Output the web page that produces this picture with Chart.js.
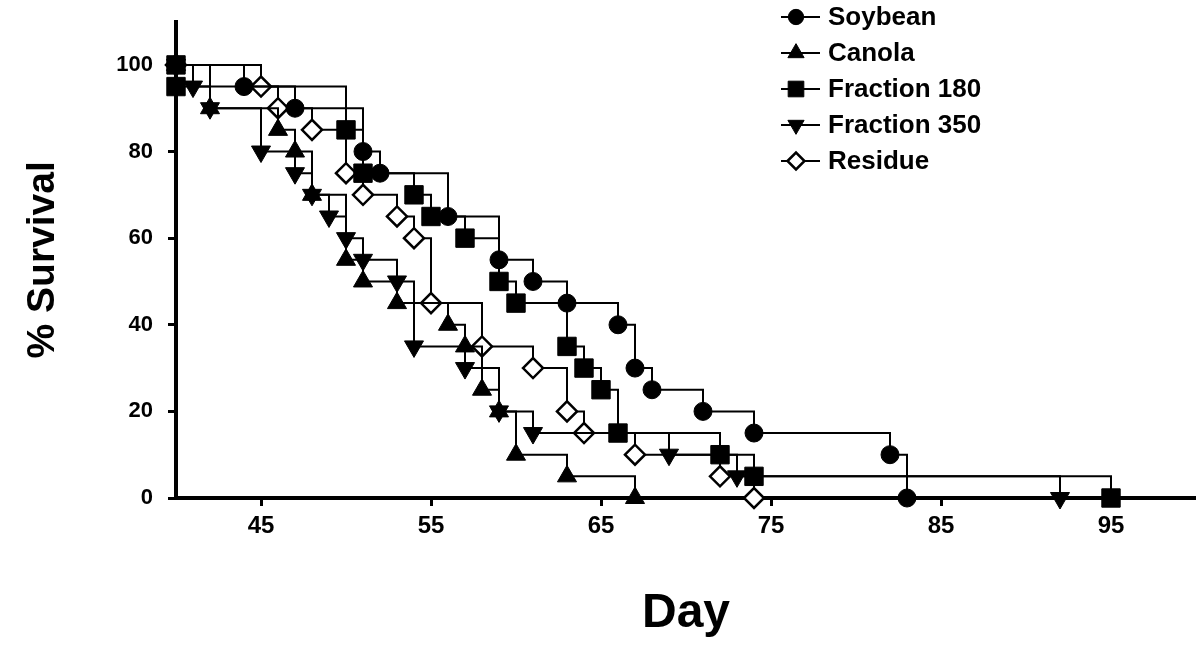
<!DOCTYPE html>
<html>
<head>
<meta charset="utf-8">
<script src="https://cdn.jsdelivr.net/npm/chart.js@4.4.1/dist/chart.umd.min.js"></script>
<style>
  html, body { margin: 0; padding: 0; background: #fff; }
</style>
</head>
<body>
<canvas id="survChart" width="1196" height="647"></canvas>
<script>
// tick labels
const xTicks = [45, 55, 65, 75, 85, 95];
const yTicks = [0, 20, 40, 60, 80, 100];

// survival (%) by day
const soybeanDays = [40, 44, 47, 51, 52, 56, 59, 61, 63, 66, 67, 68, 71, 74, 82, 83];
const soybeanSurv = [100, 95, 90, 80, 75, 65, 55, 50, 45, 40, 30, 25, 20, 15, 10, 0];

const canolaDays = [40, 42, 46, 47, 48, 50, 51, 53, 56, 57, 58, 59, 60, 63, 67];
const canolaSurv = [100, 90, 85, 80, 70, 55, 50, 45, 40, 35, 25, 20, 10, 5, 0];

const f180Days = [40, 40, 50, 51, 54, 55, 57, 59, 60, 63, 64, 65, 66, 72, 74, 95];
const f180Surv = [100, 95, 85, 75, 70, 65, 60, 50, 45, 35, 30, 25, 15, 10, 5, 0];

const f350Days = [40, 41, 42, 45, 47, 48, 49, 50, 51, 53, 54, 57, 59, 61, 69, 73, 92];
const f350Surv = [100, 95, 90, 80, 75, 70, 65, 60, 55, 50, 35, 30, 20, 15, 10, 5, 0];

const residueDays = [40, 45, 46, 48, 50, 51, 53, 54, 55, 58, 61, 63, 64, 67, 72, 74];
const residueSurv = [100, 95, 90, 85, 75, 70, 65, 60, 45, 35, 30, 20, 15, 10, 5, 0];

function pts(days, surv) {
  return days.map((d, i) => ({ x: d, y: surv[i] }));
}

const FONT = '"Liberation Sans", Arial, sans-serif';

function series(label, days, surv, style, radius, extra) {
  return Object.assign({
    label: label,
    data: pts(days, surv),
    stepped: true,
    borderColor: '#000',
    borderWidth: 2,
    pointStyle: style,
    pointRadius: radius,
    pointHoverRadius: radius,
    pointBackgroundColor: '#000',
    pointBorderColor: '#000',
    pointBorderWidth: 1,
    legendRadius: radius * 0.85,
    fill: false,
    clip: false
  }, extra || {});
}

const datasets = [
  series('Soybean', soybeanDays, soybeanSurv, 'circle', 9),
  series('Canola', canolaDays, canolaSurv, 'triangle', 11),
  series('Fraction 180', f180Days, f180Surv, 'rect', 13),
  series('Fraction 350', f350Days, f350Surv, 'triangle', 11, { pointRotation: 180 }),
  series('Residue', residueDays, residueSurv, 'rectRot', 10, { pointBackgroundColor: '#fff', pointBorderWidth: 2.5 })
];

// legend drawn as line + marker + label, top right
const lineLegend = {
  id: 'lineLegend',
  afterDraw(chart) {
    const ctx = chart.ctx;
    chart.data.datasets.forEach((ds, i) => {
      const y = 17 + i * 36;
      ctx.save();
      ctx.strokeStyle = '#000';
      ctx.lineWidth = 2;
      ctx.beginPath();
      ctx.moveTo(781, y);
      ctx.lineTo(820, y);
      ctx.stroke();
      ctx.fillStyle = ds.pointBackgroundColor;
      ctx.strokeStyle = '#000';
      ctx.lineWidth = ds.pointBorderWidth;
      Chart.helpers.drawPoint(ctx, {
        pointStyle: ds.pointStyle,
        rotation: ds.pointRotation || 0,
        radius: ds.legendRadius,
        borderWidth: ds.pointBorderWidth
      }, 796, y);
      ctx.fillStyle = '#000';
      ctx.font = 'bold 26px ' + FONT;
      ctx.textBaseline = 'middle';
      ctx.fillText(ds.label, 828, y + 1);
      ctx.restore();
    });
  }
};

new Chart(document.getElementById('survChart'), {
  type: 'line',
  data: { datasets: datasets },
  plugins: [lineLegend],
  options: {
    responsive: false,
    animation: false,
    layout: { autoPadding: false, padding: { top: 19, right: 0, left: 0, bottom: 0 } },
    plugins: { legend: { display: false }, tooltip: { enabled: false } },
    scales: {
      x: {
        type: 'linear',
        min: 40,
        max: 100,
        afterBuildTicks: s => { s.ticks = xTicks.map(v => ({ value: v })); },
        afterFit: s => { s.height = 149; },
        border: { display: true, color: '#000', width: 4 },
        grid: { display: true, drawOnChartArea: false, drawTicks: true, tickLength: 8, tickWidth: 3, tickColor: '#000' },
        ticks: { color: '#000', padding: 6, font: { family: FONT, weight: 'bold', size: 24 } },
        title: { display: true, text: 'Day', color: '#000', padding: { bottom: 4 }, font: { family: FONT, weight: 'bold', size: 48 } }
      },
      y: {
        min: 0,
        max: 110,
        afterBuildTicks: s => { s.ticks = yTicks.map(v => ({ value: v })); },
        afterFit: s => { s.width = 176; },
        border: { display: true, color: '#000', width: 4 },
        grid: { display: true, drawOnChartArea: false, drawTicks: true, tickLength: 8, tickWidth: 3, tickColor: '#000' },
        ticks: { color: '#000', padding: 15, font: { family: FONT, weight: 'bold', size: 22, lineHeight: 0.6 } },
        title: { display: true, text: '% Survival', color: '#000', padding: { top: 20 }, font: { family: FONT, weight: 'bold', size: 39 } }
      }
    }
  }
});
</script>
</body>
</html>
